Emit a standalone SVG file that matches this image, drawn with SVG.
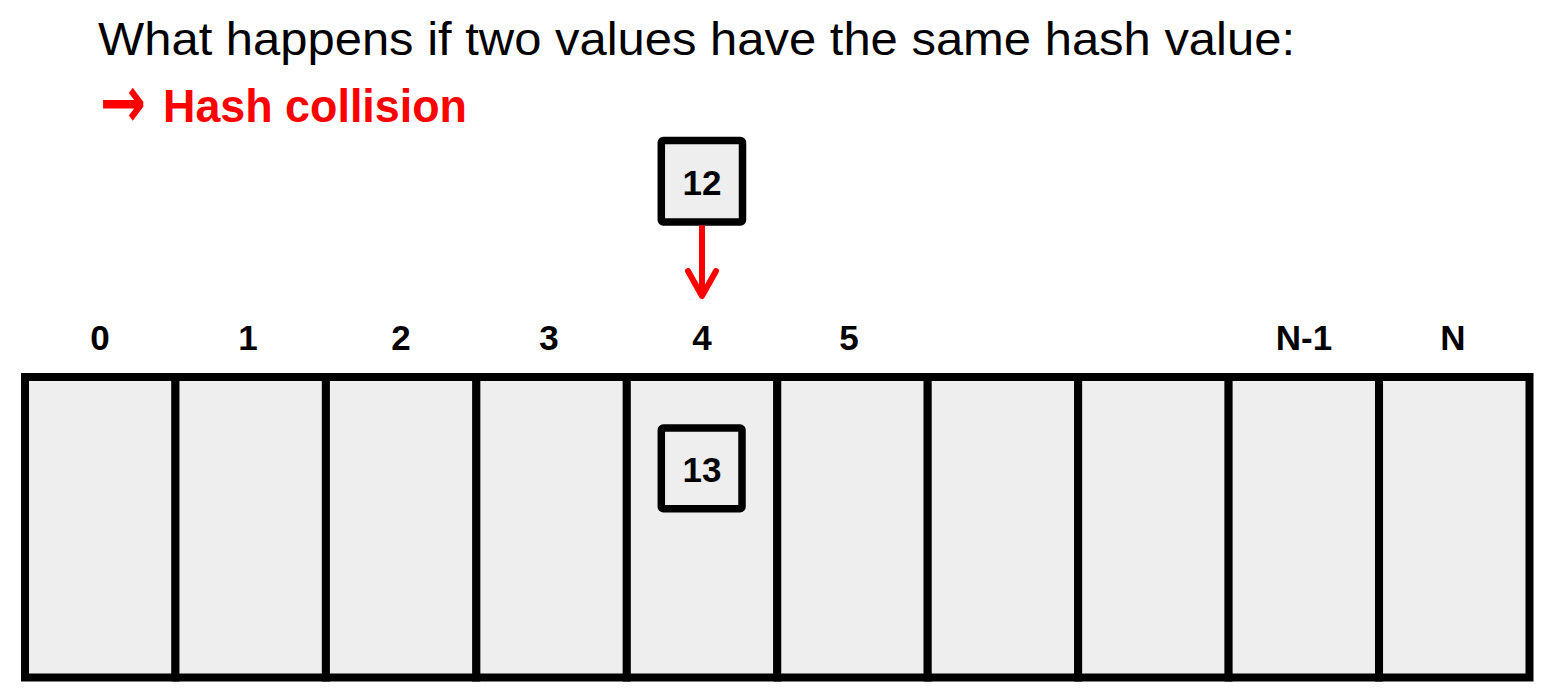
<svg xmlns="http://www.w3.org/2000/svg" width="1550" height="693" viewBox="0 0 1550 693">
  <style>
    .cell { fill: #eeeeee; stroke: #000000; stroke-width: 8; stroke-linejoin: miter; }
    .box { fill: #eeeeee; stroke: #000000; stroke-width: 7.5; }
    .lbl { font-family: "Liberation Sans", Arial, sans-serif; font-weight: bold; font-size: 35px; fill: #000000; text-anchor: middle; }
    .title { font-family: "Liberation Sans", Arial, sans-serif; font-size: 46px; fill: #000000; }
    .sub { font-family: "Liberation Sans", Arial, sans-serif; font-weight: bold; font-size: 46px; fill: #ff0000; }
    .arr { font-family: "DejaVu Sans", sans-serif; font-weight: bold; font-size: 52px; fill: #ff0000; }
    .conn { fill: none; stroke: #ff0000; stroke-width: 6; }
  </style>
  <defs>
    <marker id="chev" markerUnits="userSpaceOnUse" markerWidth="40" markerHeight="40" refX="0" refY="0" viewBox="-30 -20 34 40" orient="auto" overflow="visible">
      <path d="M-25,-14 L0,0 L-25,14" fill="none" stroke="#ff0000" stroke-width="6" stroke-linecap="round" stroke-linejoin="round"/>
    </marker>
  </defs>
  <rect x="0" y="0" width="1550" height="693" fill="#ffffff"/>

  <g id="title">
    <text class="title" x="98" y="55" textLength="1197" lengthAdjust="spacingAndGlyphs">What happens if two values have the same hash value:</text>
  </g>
  <g id="subtitle">
    <text class="arr" transform="translate(100,102.5) scale(1,1.4)" x="0" y="17.7" textLength="46" lengthAdjust="spacingAndGlyphs">→</text>
    <text class="sub" x="163" y="122" textLength="304" lengthAdjust="spacingAndGlyphs">Hash collision</text>
  </g>

  <g id="table">
    <g id="cell-0"><rect class="cell" x="25" y="377" width="150.45" height="300.5"/><text class="lbl" x="100" y="350">0</text></g>
    <g id="cell-1"><rect class="cell" x="175.45" y="377" width="150.45" height="300.5"/><text class="lbl" x="248" y="350">1</text></g>
    <g id="cell-2"><rect class="cell" x="325.9" y="377" width="150.45" height="300.5"/><text class="lbl" x="401" y="350">2</text></g>
    <g id="cell-3"><rect class="cell" x="476.35" y="377" width="150.45" height="300.5"/><text class="lbl" x="549" y="350">3</text></g>
    <g id="cell-4"><rect class="cell" x="626.8" y="377" width="150.45" height="300.5"/><text class="lbl" x="702" y="350">4</text></g>
    <g id="cell-5"><rect class="cell" x="777.25" y="377" width="150.45" height="300.5"/><text class="lbl" x="849" y="350">5</text></g>
    <g id="cell-6"><rect class="cell" x="927.7" y="377" width="150.45" height="300.5"/></g>
    <g id="cell-7"><rect class="cell" x="1078.15" y="377" width="150.45" height="300.5"/></g>
    <g id="cell-n-1"><rect class="cell" x="1228.6" y="377" width="150.45" height="300.5"/><text class="lbl" x="1304" y="350">N-1</text></g>
    <g id="cell-n"><rect class="cell" x="1379.05" y="377" width="150.45" height="300.5"/><text class="lbl" x="1453" y="350">N</text></g>
  </g>

  <g id="node-12">
    <rect class="box" x="661.3" y="140.5" width="81.2" height="81.5" rx="2"/>
    <text class="lbl" x="702" y="195">12</text>
  </g>

  <g id="node-13">
    <rect class="box" x="661.3" y="428" width="80.7" height="80.7" rx="2"/>
    <text class="lbl" x="702" y="481.5">13</text>
  </g>

  <g id="connectors">
    <path class="conn" d="M702,225.5 L702,296" marker-end="url(#chev)"/>
  </g>
</svg>
